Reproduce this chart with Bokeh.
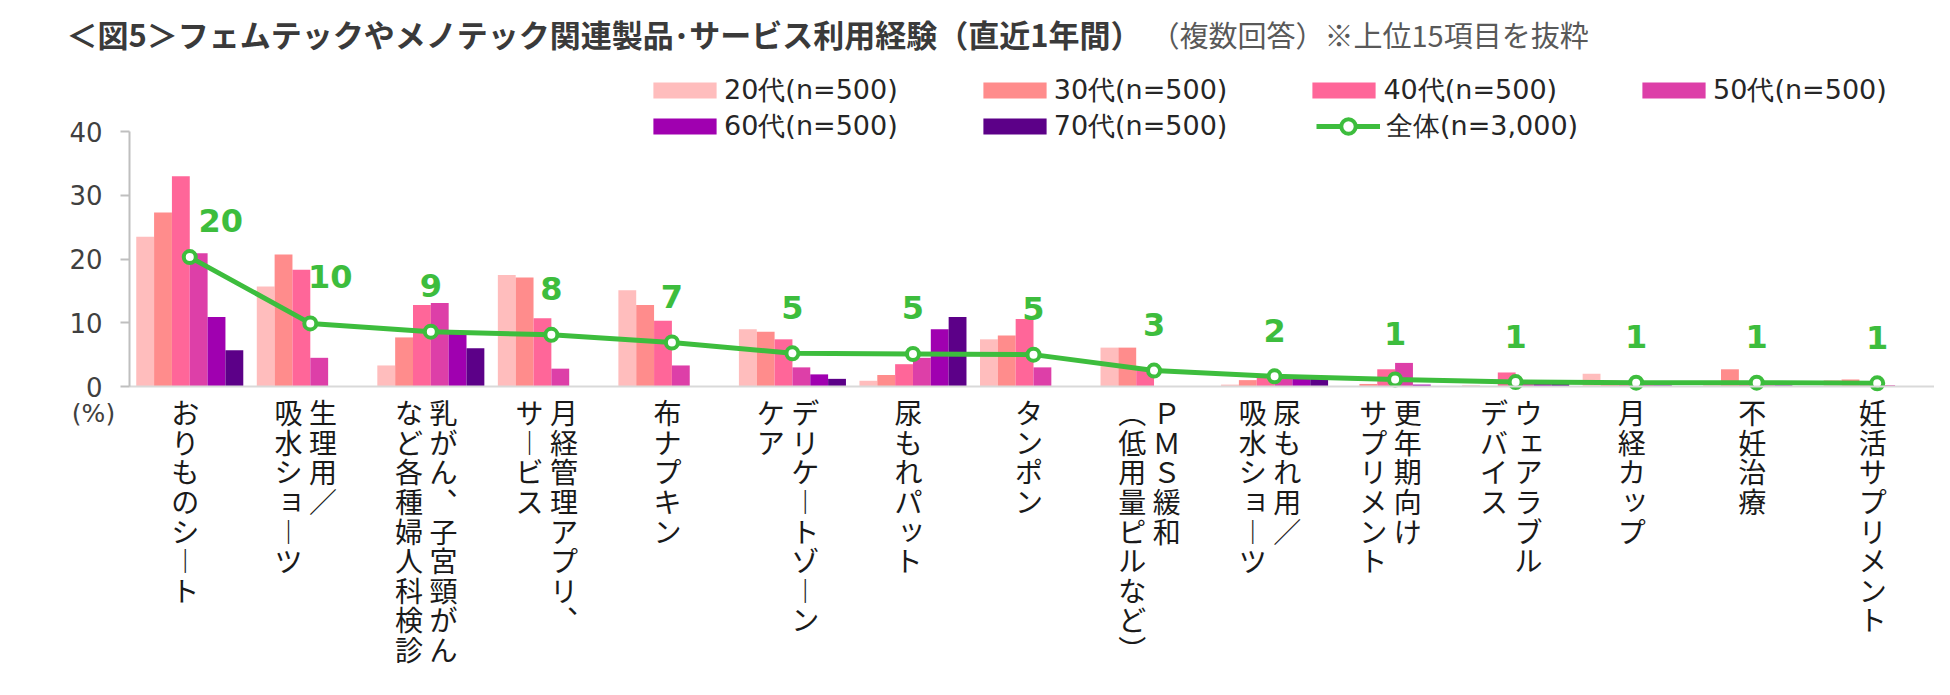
from bokeh.plotting import figure
from bokeh.models import (ColumnDataSource, Range1d, Legend, LegendItem,
                          LabelSet, Label, FixedTicker)
from bokeh.transform import dodge
from bokeh.core.properties import value
from bokeh.embed import file_html
from bokeh.resources import INLINE

# ---------------- data ----------------
CATEGORY_LINES = [
    ["おりものシート"],
    ["生理用／", "吸水ショーツ"],
    ["乳がん、子宮頸がん", "など各種婦人科検診"],
    ["月経管理アプリ、", "サービス"],
    ["布ナプキン"],
    ["デリケートゾーン", "ケア"],
    ["尿もれパット"],
    ["タンポン"],
    ["ＰＭＳ緩和", "（低用量ピルなど）"],
    ["尿もれ用／", "吸水ショーツ"],
    ["更年期向け", "サプリメント"],
    ["ウェアラブル", "デバイス"],
    ["月経カップ"],
    ["不妊治療"],
    ["妊活サプリメント"],
]
CATEGORIES = ["".join(lines) for lines in CATEGORY_LINES]

AGE_GROUPS = ["20代(n=500)", "30代(n=500)", "40代(n=500)",
              "50代(n=500)", "60代(n=500)", "70代(n=500)"]
TOTAL_NAME = "全体(n=3,000)"

V20 = [23.5, 15.7, 3.3, 17.5, 15.1, 9.0, 0.9, 7.4, 6.1, 0.3, 0.0, 0.2, 2.0, 0.3, 1.0]
V30 = [27.3, 20.7, 7.7, 17.1, 12.8, 8.6, 1.8, 8.0, 6.1, 1.0, 0.4, 0.0, 0.9, 2.7, 1.1]
V40 = [33.0, 18.3, 12.8, 10.7, 10.3, 7.4, 3.5, 10.6, 2.9, 1.4, 2.7, 2.2, 0.7, 0.5, 0.6]
V50 = [20.9, 4.5, 13.1, 2.8, 3.3, 3.0, 4.5, 3.0, 0.0, 1.6, 3.7, 0.5, 0.3, 0.2, 0.2]
V60 = [10.9, 0.0, 8.3, 0.0, 0.0, 1.9, 9.0, 0.0, 0.0, 1.8, 0.3, 0.8, 0.2, 0.2, 0.0]
V70 = [5.7, 0.0, 6.0, 0.0, 0.0, 1.2, 10.9, 0.0, 0.0, 1.6, 0.0, 1.0, 0.0, 0.0, 0.0]
TOTAL = [20.3, 9.9, 8.6, 8.1, 6.9, 5.2, 5.1, 5.0, 2.5, 1.6, 1.1, 0.7, 0.6, 0.6, 0.5]
TOTAL_LABELS = ["20", "10", "9", "8", "7", "5", "5", "5", "3", "2", "1", "1", "1", "1", "1"]
Y_TICKS = [0, 10, 20, 30, 40]

TITLE = "＜図5＞フェムテックやメノテック関連製品･サービス利用経験（直近1年間）"
SUBTITLE = "（複数回答）※上位15項目を抜粋"

# ---------------- style / layout ----------------
COLORS = ["#FFBDBD", "#FF8C8C", "#FF6699", "#DD3FA8", "#A000B0", "#5C0088"]
GREEN = "#3DBD3D"
AXIS_GRAY = "#BFBFBF"
BASE_GRAY = "#D9D9D9"
TXT = "#404040"
BAR_W = 0.148
LABEL_DX = [31, 20] + [0] * 13          # screen-px nudges of the value labels
LABEL_DY = [-37, -47] + [-46] * 13

W, H = 1934, 679
AXIS_X = 129          # px position of the value axis
PLOT_RIGHT = 1937     # px end of the category axis
ZERO_Y = 386          # px position of value 0
PX_PER_UNIT = 6.375   # px per 1 %
U = (PLOT_RIGHT - AXIS_X) / len(CATEGORIES)   # px per category

vert_map = {"ー": "︱", "、": "︑", "（": "︵", "）": "︶"}
SMALL_KANA = set("ァィゥェォッャュョヮぁぃぅぇぉっゃゅょ")

cat_x = [i + 0.5 for i in range(len(CATEGORIES))]
src = ColumnDataSource(dict(x=cat_x, cat=CATEGORIES, v20=V20, v30=V30, v40=V40, v50=V50,
                            v60=V60, v70=V70, total=TOTAL, lbl=TOTAL_LABELS,
                            dx=LABEL_DX, dy=LABEL_DY))
cols = ["v20", "v30", "v40", "v50", "v60", "v70"]

p = figure(width=W, height=H, output_backend="svg", toolbar_location=None, title=None,
           x_range=Range1d(-AXIS_X / U, (W - AXIS_X) / U),
           y_range=Range1d(-(H - ZERO_Y) / PX_PER_UNIT, ZERO_Y / PX_PER_UNIT),
           min_border_left=0, min_border_right=0, min_border_top=0, min_border_bottom=0)
p.outline_line_color = None
p.background_fill_color = "white"
p.border_fill_color = "white"
p.xgrid.visible = False
p.ygrid.visible = False

bars = []
for k, c in enumerate(cols):
    r = p.vbar(x=dodge("x", (k - 2.5) * BAR_W), top=c, width=BAR_W,
               source=src, fill_color=COLORS[k], line_color=None)
    bars.append(r)

line_r = p.line(x="x", y="total", source=src, line_color=GREEN, line_width=5)
scat_r = p.scatter(x="x", y="total", source=src, size=12, fill_color="white",
                   line_color=GREEN, line_width=4)

p.text(x="x", y="total", text="lbl", x_offset="dx", y_offset="dy", source=src,
       text_align="center", text_baseline="middle", text_color=GREEN,
       text_font=value("DejaVu Sans"), text_font_style="bold", text_font_size="32px")

# axes
p.yaxis.fixed_location = 0
p.yaxis.ticker = FixedTicker(ticks=Y_TICKS)
p.yaxis.bounds = (0, 40)
p.yaxis.axis_line_color = AXIS_GRAY
p.yaxis.axis_line_width = 2
p.yaxis.major_tick_line_color = AXIS_GRAY
p.yaxis.major_tick_line_width = 2
p.yaxis.major_tick_in = 0
p.yaxis.major_tick_out = 9
p.yaxis.minor_tick_line_color = None
p.yaxis.major_label_standoff = 18
p.yaxis.major_label_text_font = "DejaVu Sans"
p.yaxis.major_label_text_font_size = "26px"
p.yaxis.major_label_text_color = TXT

p.xaxis.fixed_location = 0
p.xaxis.ticker = FixedTicker(ticks=[])
p.xaxis.bounds = (0, len(CATEGORIES))
p.xaxis.axis_line_color = BASE_GRAY
p.xaxis.axis_line_width = 2
p.xaxis.major_tick_line_color = None
p.xaxis.minor_tick_line_color = None

# vertical (tategaki) category labels
COL_PITCH = 34.5
CHAR_PITCH = 29.6
FIRST_CHAR_Y = 411.7   # px centre of first character
BASE_DX = -4.5
KANA_SHIFT = 3
lx, ly, lt, ldx = [], [], [], []
for xc, lines in zip(cat_x, CATEGORY_LINES):
    n = len(lines)
    for j, line in enumerate(lines):
        off = BASE_DX + (n - 1) / 2 * COL_PITCH - j * COL_PITCH
        for i, ch in enumerate(line):
            small = ch in SMALL_KANA
            lx.append(xc)
            ly.append(H - (FIRST_CHAR_Y + i * CHAR_PITCH) + (KANA_SHIFT if small else 0))
            lt.append(vert_map.get(ch, ch))
            ldx.append(off + (KANA_SHIFT if small else 0))
lab_src = ColumnDataSource(dict(x=lx, y=ly, t=lt, dx=ldx))
p.add_layout(LabelSet(x="x", y="y", text="t", x_offset="dx", source=lab_src,
                      x_units="data", y_units="screen",
                      text_align="center", text_baseline="middle",
                      text_font=value("Noto Sans CJK JP"), text_font_size="28px",
                      text_color="#1A1A1A"))

p.add_layout(Label(x=93, y=H - 413, x_units="screen", y_units="screen",
                   text="(%)", text_align="center", text_baseline="middle",
                   text_font="DejaVu Sans", text_font_size="25px", text_color=TXT))

# titles
p.add_layout(Label(x=66, y=H - 33, x_units="screen", y_units="screen",
                   text=TITLE, text_align="left", text_baseline="middle",
                   text_font="Noto Sans CJK JP", text_font_style="bold",
                   text_font_size="31px", text_color="#3A3A3A"))
p.add_layout(Label(x=1150, y=H - 33, x_units="screen", y_units="screen",
                   text=SUBTITLE, text_align="left", text_baseline="middle",
                   text_font="Noto Sans CJK JP", text_font_size="29px", text_color="#595959"))

# legends
leg_common = dict(orientation="horizontal", padding=0, margin=0, border_line_color=None,
                  background_fill_alpha=0, label_text_font="DejaVu Sans",
                  label_text_font_size="27px", label_text_color="#262626")
leg1 = Legend(items=[LegendItem(label=value(AGE_GROUPS[k]), renderers=[bars[k]]) for k in range(4)],
              location=(645, H - 108), glyph_width=79, glyph_height=20, label_standoff=0,
              spacing=77, **leg_common)
leg2 = Legend(items=[LegendItem(label=value(AGE_GROUPS[k]), renderers=[bars[k]]) for k in range(4, 6)],
              location=(645, H - 144), glyph_width=79, glyph_height=20, label_standoff=0,
              spacing=77, **leg_common)
leg3 = Legend(items=[LegendItem(label=value(TOTAL_NAME), renderers=[line_r, scat_r])],
              location=(1316, H - 144), glyph_width=64, glyph_height=36, label_standoff=6,
              **leg_common)
for lg in (leg1, leg2, leg3):
    p.add_layout(lg)

open("out.html", "w").write(file_html(p, INLINE))
